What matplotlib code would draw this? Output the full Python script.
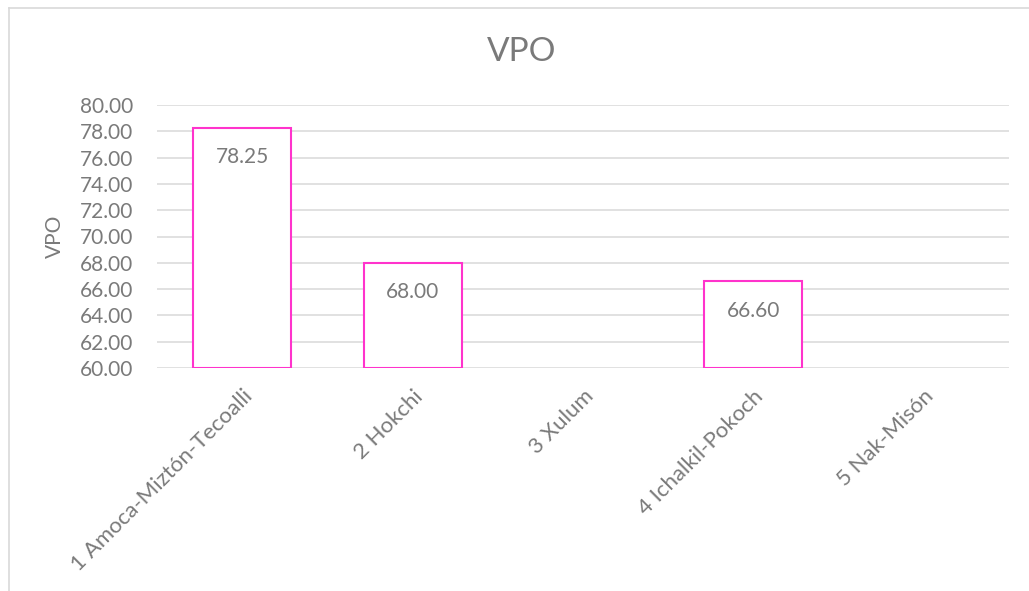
import numpy as np
import matplotlib
matplotlib.use("Agg")
import matplotlib.pyplot as plt
from matplotlib.lines import Line2D

# data
categories = ["1 Amoca-Miztón-Tecoalli", "2 Hokchi", "3 Xulum", "4 Ichalkil-Pokoch", "5 Nak-Misón"]
vpo = [78.25, 68.00, np.nan, 66.60, np.nan]
y_ticks = [60, 62, 64, 66, 68, 70, 72, 74, 76, 78, 80]

TEXT = "#7a7a7a"
GRID = "#d9d9d9"
PINK = "#ff33cc"
FS = 15

plt.rcParams["font.family"] = ["Lato", "DejaVu Sans"]

W, H = 1029, 591
fig = plt.figure(figsize=(W / 100, H / 100), dpi=100)
fig.patch.set_facecolor("white")

# chart frame (left and top edges visible)
fig.add_artist(Line2D([8.5 / W, 8.5 / W], [0, 1 - 7.5 / H], color=GRID, lw=1.2))
fig.add_artist(Line2D([8.5 / W, 1], [1 - 7.5 / H, 1 - 7.5 / H], color=GRID, lw=1.2))

ax = fig.add_axes([157 / W, (H - 368) / H, (1009 - 157) / W, (368 - 105) / H])

x = np.arange(len(categories))
base = y_ticks[0]
heights = [v - base for v in vpo]
ax.bar(x, heights, bottom=base, width=0.575, facecolor="white", edgecolor=PINK,
       linewidth=1.5, zorder=3)

for xi, v in zip(x, vpo):
    if np.isnan(v):
        continue
    ax.annotate(f"{v:.2f}", xy=(xi, v), xytext=(0, -14), textcoords="offset points",
                ha="center", va="top", fontsize=FS, color=TEXT, zorder=4)

ax.set_xlim(-0.5, len(categories) - 0.5)
ax.set_ylim(y_ticks[0], y_ticks[-1])
ax.set_yticks(y_ticks)
ax.set_yticklabels([f"{t:.2f}" for t in y_ticks])
ax.yaxis.grid(True, color=GRID, lw=1.1, zorder=0)
ax.set_axisbelow(True)
for s in ax.spines.values():
    s.set_visible(False)
ax.tick_params(axis="both", length=0, labelsize=FS, labelcolor=TEXT)
ax.tick_params(axis="y", pad=17)

ax.set_xticks(x)
ax.set_xticklabels(categories, rotation=45, ha="right", va="top", rotation_mode="anchor",
                   fontsize=16)
ax.tick_params(axis="x", pad=13)

ax.set_ylabel("VPO", fontsize=FS, color=TEXT, labelpad=11)
fig.text(522 / W, 1 - 52 / H, "VPO", ha="center", va="center", fontsize=24, color=TEXT)

fig.savefig("out.png", dpi=100, facecolor="white")
